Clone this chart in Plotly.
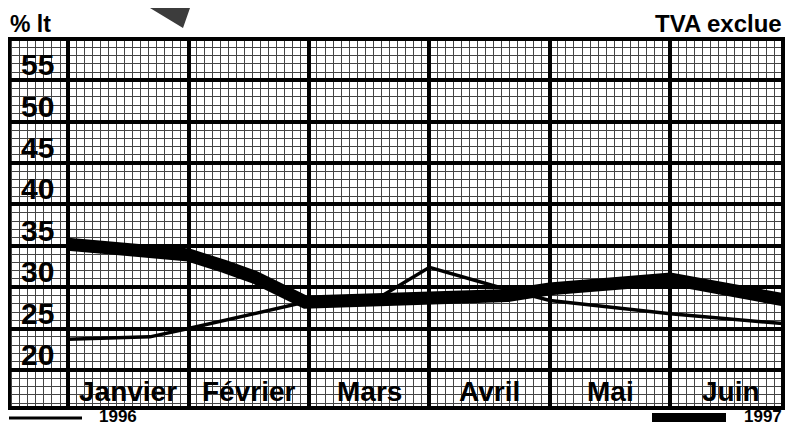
import plotly.graph_objects as go

# ---------------- data ----------------
months = ["Janvier", "Février", "Mars", "Avril", "Mai", "Juin"]
y_tick_values = [20, 25, 30, 35, 40, 45, 50, 55]
y_tick_labels = ["20", "25", "30", "35", "40", "45", "50", "55"]

# x in month units (0 = début janvier, 6 = fin juin)
x_1996 = [0.0, 0.68, 1.0, 1.97, 2.6, 3.0, 3.65, 4.0, 5.0, 5.93]
v_1996 = [23.7, 24.0, 25.0, 28.2, 28.9, 32.4, 29.7, 28.4, 26.8, 25.6]

x_1997 = [0.0, 1.0, 1.3, 1.55, 1.97, 3.0, 3.65, 4.0, 5.0, 5.93]
v_1997 = [35.2, 33.9, 32.5, 31.2, 28.2, 28.6, 29.0, 29.8, 31.0, 28.5]

series_names = ["1996", "1997"]

# ---------------- layout constants ----------------
# the page body has an 8px margin: the figure starts at screen (8, 8);
# keep the figure inside the viewport (no scrollbars)
OFF = 8
SW, SH = 793, 436
W, H = SW - 2 * OFF, SH - 2 * OFF
# plot area in screen pixels
SX0, SX1, SY0, SY1 = 9, 783, 39, 408
L, R, T, B = SX0 - OFF, W - (SX1 - OFF), SY0 - OFF, H - (SY1 - OFF)
PW, PH = SX1 - SX0, SY1 - SY0
X_RANGE = [-0.49, 5.935]
Y_RANGE = [15.4, 60]
FONT = "Liberation Sans, Arial, Helvetica, sans-serif"


def px(xs):
    return (xs - SX0) / PW


def py(ys):
    return (SY1 - ys) / PH


fig = go.Figure()
fig.add_trace(go.Scatter(x=x_1997, y=v_1997, mode="lines", name=series_names[1],
                         line=dict(color="black", width=13), showlegend=False))
fig.add_trace(go.Scatter(x=x_1996, y=v_1996, mode="lines", name=series_names[0],
                         line=dict(color="black", width=3.5), showlegend=False))

fig.update_layout(
    width=W, height=H,
    margin=dict(l=L, r=R, t=T, b=B, pad=0),
    paper_bgcolor="white", plot_bgcolor="white",
    showlegend=False,
    font=dict(family=FONT, color="black"),
    xaxis=dict(range=X_RANGE, tick0=0, dtick=1, showticklabels=False, ticks="",
               showgrid=True, gridcolor="black", gridwidth=4, zeroline=False,
               showline=False,
               minor=dict(tick0=0, dtick=1 / 15, showgrid=True, gridcolor="#444444",
                          gridwidth=1, ticks="")),
    yaxis=dict(range=Y_RANGE, tick0=20, dtick=5, showticklabels=False, ticks="",
               showgrid=True, gridcolor="black", gridwidth=4, zeroline=False,
               showline=False,
               minor=dict(tick0=0, dtick=1, showgrid=True, gridcolor="#444444",
                          gridwidth=1, ticks="")),
)

# frame
fig.add_shape(type="rect", xref="paper", yref="paper", x0=0, x1=1, y0=0, y1=1,
              line=dict(color="black", width=4), layer="above")

# y labels inside the left column
for v, lab in zip(y_tick_values, y_tick_labels):
    fig.add_annotation(x=-0.1, y=v, xref="x", yref="y", text=lab, showarrow=False,
                       xanchor="right", yanchor="bottom", yshift=-3,
                       font=dict(size=30, family=FONT, weight="bold", color="black"))

# month labels in the bottom row
for i, m in enumerate(months):
    fig.add_annotation(x=i + 0.5, y=17.45, xref="x", yref="y", text=m, showarrow=False,
                       xanchor="center", yanchor="middle",
                       font=dict(size=28, family=FONT, weight="bold", color="black"))

# titles
fig.add_annotation(x=px(8), y=1, xref="paper", yref="paper", text="% lt", showarrow=False,
                   xanchor="left", yanchor="bottom", yshift=0,
                   font=dict(size=23, family=FONT, weight="bold", color="black"))
fig.add_annotation(x=px(784), y=1, xref="paper", yref="paper", text="TVA exclue",
                   showarrow=False, xanchor="right", yanchor="bottom", yshift=0,
                   font=dict(size=24, family=FONT, weight="bold", color="black"))

# decorative grey triangle (cut-off element at the top)
fig.add_shape(type="path", xref="paper", yref="paper",
              path=f"M {px(124)},{py(8)} L {px(190)},{py(8)} L {px(183)},{py(28)} "
                   f"L {px(150)},{py(8)} Z",
              fillcolor="#3c3c3c", line=dict(width=0), layer="above")

# bottom legend
fig.add_shape(type="line", xref="paper", yref="paper", x0=px(9), x1=px(82),
              y0=py(418), y1=py(418), line=dict(color="black", width=3))
fig.add_annotation(x=px(97), y=0, xref="paper", yref="paper", text=series_names[0],
                   showarrow=False, xanchor="left", yanchor="middle", yshift=-8,
                   font=dict(size=17, family=FONT, weight="bold", color="black"))
fig.add_shape(type="rect", xref="paper", yref="paper", x0=px(652), x1=px(726),
              y0=py(422), y1=py(413), fillcolor="black", line=dict(width=0))
fig.add_annotation(x=px(784), y=0, xref="paper", yref="paper", text=series_names[1],
                   showarrow=False, xanchor="right", yanchor="middle", yshift=-8,
                   font=dict(size=17, family=FONT, weight="bold", color="black"))

fig.write_html("out.html")
